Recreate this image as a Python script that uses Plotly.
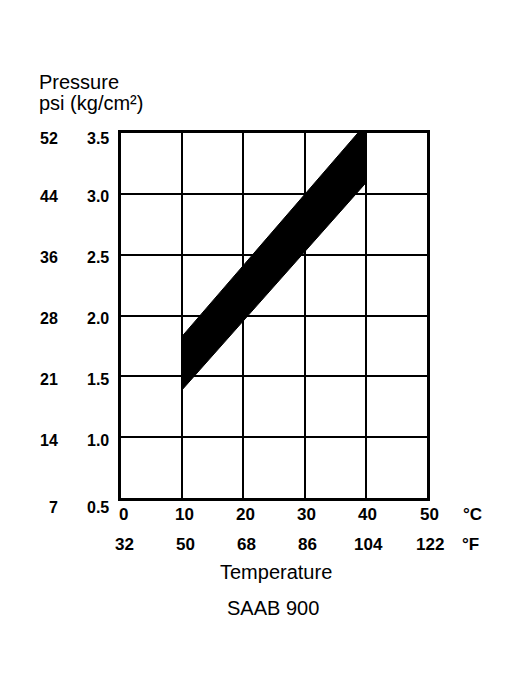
import plotly.graph_objects as go

# Data
temp_c = [0, 10, 20, 30, 40, 50]
temp_f = [32, 50, 68, 86, 104, 122]
kg_cm2 = [0.5, 1.0, 1.5, 2.0, 2.5, 3.0, 3.5]
kg_labels = ["0.5", "1.0", "1.5", "2.0", "2.5", "3.0", "3.5"]
psi = [7, 14, 21, 28, 36, 44, 52]
band_lower_t = [10, 40]
band_lower_p = [1.39, 3.09]
band_upper_t = [10, 38.7, 40]
band_upper_p = [1.83, 3.5, 3.5]

poly_x = band_lower_t + band_upper_t[::-1]
poly_y = band_lower_p + band_upper_p[::-1]

fig = go.Figure()
fig.add_trace(go.Scatter(
    x=poly_x, y=poly_y, fill="toself", mode="lines",
    fillcolor="black", line=dict(color="black", width=1),
    hoverinfo="skip", showlegend=False,
))

FONT = "Liberation Sans, Arial, sans-serif"
left_font = dict(family=FONT, size=16, color="black", weight="bold")
bot_font = dict(family=FONT, size=17, color="black", weight="bold")
text_font = dict(family=FONT, size=20, color="black")

ann = []
for v, lab, p in zip(kg_cm2, kg_labels, psi):
    ys = -3
    if v == kg_cm2[0]:
        ys = -9
    elif v == kg_cm2[-1]:
        ys = -5
    ann.append(dict(x=0, xref="paper", y=v, yref="y", text=lab, showarrow=False,
                    xanchor="right", yanchor="middle", xshift=-10, yshift=ys, font=left_font))
    ann.append(dict(x=0, xref="paper", y=v, yref="y", text=str(p), showarrow=False,
                    xanchor="right", yanchor="middle", xshift=-61, yshift=ys, font=left_font))
for c, f in zip(temp_c, temp_f):
    ann.append(dict(x=c, xref="x", y=0, yref="paper", text=str(c), showarrow=False,
                    xanchor="center", yanchor="middle", yshift=-16, xshift=2, font=bot_font))
    ann.append(dict(x=c, xref="x", y=0, yref="paper", text=str(f), showarrow=False,
                    xanchor="center", yanchor="middle", yshift=-46, xshift=3, font=bot_font))
ann.append(dict(x=50, xref="x", y=0, yref="paper", text="°C", showarrow=False,
                xanchor="center", yanchor="middle", yshift=-16, xshift=45, font=bot_font))
ann.append(dict(x=50, xref="x", y=0, yref="paper", text="°F", showarrow=False,
                xanchor="center", yanchor="middle", yshift=-46, xshift=43, font=bot_font))
ann.append(dict(x=0.507, xref="paper", y=0, yref="paper", text="Temperature", showarrow=False,
                xanchor="center", yanchor="middle", yshift=-74, font=text_font))
ann.append(dict(x=0.497, xref="paper", y=0, yref="paper", text="SAAB 900", showarrow=False,
                xanchor="center", yanchor="middle", yshift=-110, font=text_font))
ann.append(dict(x=0, xref="paper", y=1, yref="paper", text="Pressure", showarrow=False,
                xanchor="left", yanchor="middle", xshift=-84, yshift=51, font=text_font))
ann.append(dict(x=0, xref="paper", y=1, yref="paper", text="psi (kg/cm²)", showarrow=False,
                xanchor="left", yanchor="middle", xshift=-84, yshift=30, font=text_font))

fig.update_layout(
    width=513, height=686,
    margin=dict(l=113, r=94, t=125, b=196),
    paper_bgcolor="white", plot_bgcolor="white",
    annotations=ann,
    xaxis=dict(range=[0, 50], tickvals=temp_c, showticklabels=False, ticks="",
               showgrid=True, gridcolor="black", gridwidth=2, zeroline=False,
               showline=True, linecolor="black", linewidth=3, mirror=True, fixedrange=True),
    yaxis=dict(range=[0.5, 3.5], tickvals=kg_cm2, showticklabels=False, ticks="",
               showgrid=True, gridcolor="black", gridwidth=2, zeroline=False,
               showline=True, linecolor="black", linewidth=3, mirror=True, fixedrange=True),
)

fig.write_html("out.html")
